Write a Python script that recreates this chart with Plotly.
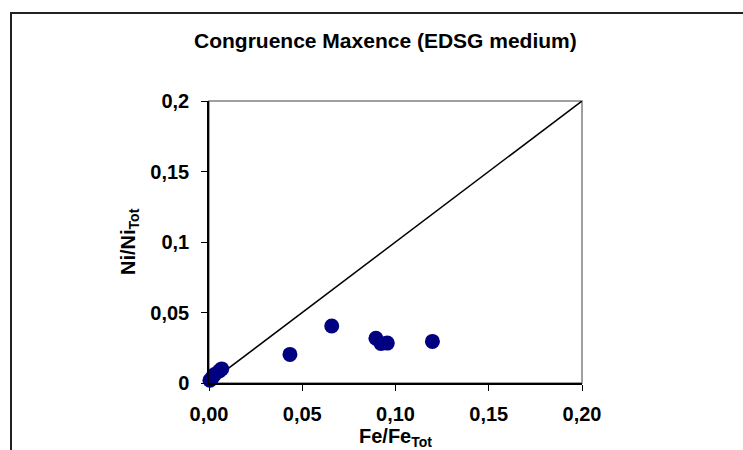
import plotly.graph_objects as go

# Data
fe_ratio = [0.0005, 0.0018, 0.0030, 0.0055, 0.0068, 0.0434, 0.0658, 0.0895, 0.0922, 0.0956, 0.1198]
ni_ratio = [0.0020, 0.0040, 0.0060, 0.0085, 0.0100, 0.0203, 0.0404, 0.0317, 0.0280, 0.0283, 0.0295]
line_x = [0.0, 0.2]
line_y = [0.0, 0.2]
x_ticks = [0.0, 0.05, 0.10, 0.15, 0.20]
x_tick_labels = ["0,00", "0,05", "0,10", "0,15", "0,20"]
y_ticks = [0.0, 0.05, 0.1, 0.15, 0.2]
y_tick_labels = ["0", "0,05", "0,1", "0,15", "0,2"]

FONT = "Liberation Sans, Arial, sans-serif"
W, H = 743, 450
L, R, T, B = 209, 743 - 582, 101, 450 - 383
PW, PH = W - L - R, H - T - B


def px_x(p):
    return (p - L) / PW


def px_y(p):
    return (H - B - p) / PH


fig = go.Figure()
fig.add_trace(go.Scatter(x=line_x, y=line_y, mode="lines",
                         line=dict(color="black", width=1.5), showlegend=False))
fig.add_trace(go.Scatter(x=fe_ratio, y=ni_ratio, mode="markers",
                         marker=dict(color="#000080", size=15, line=dict(width=0)),
                         showlegend=False, cliponaxis=False))

axis_common = dict(showgrid=False, zeroline=False, showline=True, linecolor="black",
                   linewidth=1.5, ticks="outside", ticklen=6, tickcolor="black", tickwidth=1,
                   tickfont=dict(family=FONT, size=20, color="black", weight="bold"))
fig.update_xaxes(range=[0, 0.2], tickvals=x_ticks, ticktext=x_tick_labels,
                 ticklabelstandoff=6, **axis_common)
fig.update_yaxes(range=[0, 0.2], tickvals=y_ticks, ticktext=y_tick_labels,
                 ticklabelstandoff=8, **axis_common)

fig.update_layout(
    width=W, height=H,
    margin=dict(l=L, r=R, t=T, b=B, pad=0),
    paper_bgcolor="white", plot_bgcolor="white",
    showlegend=False,
    shapes=[
        # gray plot-area border (top/right)
        dict(type="rect", xref="paper", yref="paper", x0=0, y0=0, x1=1, y1=1,
             line=dict(color="#808080", width=1.5), layer="below"),
        # outer chart frame
        dict(type="rect", xref="paper", yref="paper", x0=px_x(11), y0=px_y(H + 40),
             x1=px_x(W + 40), y1=px_y(13), line=dict(color="#222222", width=2)),
    ],
    annotations=[
        dict(text="Congruence Maxence (EDSG medium)", xref="paper", yref="paper",
             x=px_x(385), y=px_y(41), xanchor="center", yanchor="middle", showarrow=False,
             font=dict(family=FONT, size=21, color="black", weight="bold")),
        dict(text="Fe/Fe<sub>Tot</sub>", xref="paper", yref="paper",
             x=px_x(395), y=px_y(438), xanchor="center", yanchor="middle", showarrow=False,
             font=dict(family=FONT, size=20, color="black", weight="bold")),
        dict(text="Ni/Ni<sub>Tot</sub>", xref="paper", yref="paper", textangle=-90,
             x=px_x(129), y=px_y(242), xanchor="center", yanchor="middle", showarrow=False,
             font=dict(family=FONT, size=20, color="black", weight="bold")),
    ],
)

fig.write_html("out.html")
